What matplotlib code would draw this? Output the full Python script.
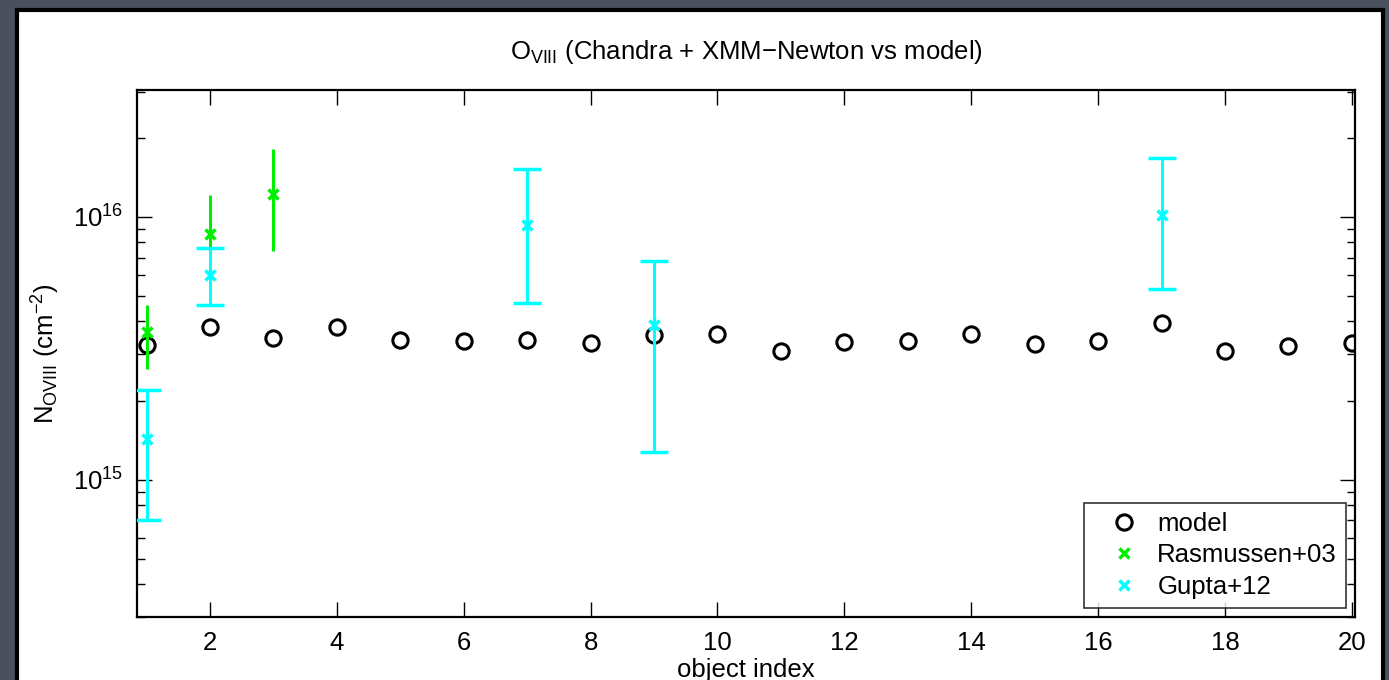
import numpy as np
import matplotlib
matplotlib.use("Agg")
import matplotlib.pyplot as plt
from matplotlib.patches import Rectangle
from matplotlib.lines import Line2D
from matplotlib.ticker import LogLocator, NullFormatter

plt.rcParams['font.family'] = ['Liberation Sans', 'DejaVu Sans']
plt.rcParams['mathtext.fontset'] = 'custom'
plt.rcParams['mathtext.rm'] = 'Liberation Sans'
plt.rcParams['mathtext.it'] = 'Liberation Sans'

# model column densities, objects 1..20
obj_index = np.arange(1, 21)
model_N = [3.24e15, 3.80e15, 3.45e15, 3.80e15, 3.39e15, 3.36e15, 3.39e15,
           3.30e15, 3.54e15, 3.57e15, 3.10e15, 3.33e15, 3.36e15, 3.57e15,
           3.28e15, 3.36e15, 3.94e15, 3.10e15, 3.22e15, 3.30e15]

# Rasmussen+03 (Chandra)
ras_idx = [1, 2, 3]
ras_N = [3.65e15, 8.6e15, 1.22e16]
ras_lo = [2.63e15, 7.43e15, 7.43e15]
ras_hi = [4.61e15, 1.21e16, 1.82e16]

# Gupta+12 (Chandra)
gup_idx = [1, 2, 7, 9, 17]
gup_N = [1.43e15, 6.0e15, 9.3e15, 3.87e15, 1.02e16]
gup_lo = [7.04e14, 4.61e15, 4.70e15, 1.27e15, 5.31e15]
gup_hi = [2.20e15, 7.59e15, 1.52e16, 6.78e15, 1.68e16]

GREEN = '#00ee00'
CYAN = '#00ffff'
FS = 18.5

fig = plt.figure(figsize=(13.89, 6.8), dpi=100)
fig.patch.set_facecolor('#4b505e')
# white sheet behind the plot
sheet = Rectangle((17 / 1389, -0.05), 1366 / 1389, 1.05 - 10 / 680,
                  transform=fig.transFigure, facecolor='white',
                  edgecolor='black', linewidth=3, zorder=-10)
fig.add_artist(sheet)

ax = fig.add_axes([137 / 1389, 1 - 617 / 680, 1218 / 1389, 527 / 680])
ax.set_facecolor('white')

ax.plot(obj_index, model_N, 'o', mfc='none', mec='black', ms=11, mew=2.2,
        zorder=3)

ras = np.array(ras_N)
ax.errorbar(ras_idx, ras_N,
            yerr=[ras - np.array(ras_lo), np.array(ras_hi) - ras],
            fmt='x', color=GREEN, ms=7, mew=2.5, elinewidth=2.2,
            capsize=0, zorder=4)

gup = np.array(gup_N)
ax.errorbar(gup_idx, gup_N,
            yerr=[gup - np.array(gup_lo), np.array(gup_hi) - gup],
            fmt='x', color=CYAN, ms=7, mew=2.5, elinewidth=2.2,
            capsize=10, capthick=2.2, zorder=4)

ax.set_yscale('log')
ax.set_xlim(0.85, 20.05)
ax.set_ylim(3e14, 3.04e16)
ax.set_xticks([2, 4, 6, 8, 10, 12, 14, 16, 18, 20])
ax.yaxis.set_major_locator(LogLocator(base=10, numticks=10))
ax.yaxis.set_minor_locator(LogLocator(base=10, subs=np.arange(2, 10), numticks=20))
ax.yaxis.set_minor_formatter(NullFormatter())

ax.tick_params(which='both', direction='in', top=True, right=True,
               labelsize=FS, width=1)
ax.tick_params(which='major', length=11, pad=10)
ax.tick_params(which='minor', length=6)
for s in ax.spines.values():
    s.set_linewidth(1.6)

ax.set_title(r'O$_{\mathrm{VIII}}$ (Chandra + XMM$-$Newton vs model)',
             fontsize=FS, pad=22)
ax.set_xlabel('object index', fontsize=FS, labelpad=2)
ax.set_ylabel(r'N$_{\mathrm{OVIII}}$ (cm$^{-2}$)', fontsize=FS, labelpad=8)

# legend shows markers only
handles = [
    Line2D([], [], ls='none', marker='o', mfc='none', mec='black', ms=11, mew=2.2),
    Line2D([], [], ls='none', marker='x', color=GREEN, ms=7, mew=2.5),
    Line2D([], [], ls='none', marker='x', color=CYAN, ms=7, mew=2.5),
]
leg = ax.legend(handles, ['model', 'Rasmussen+03', 'Gupta+12'],
                loc='lower right', fontsize=FS, frameon=True, fancybox=False,
                edgecolor='black', borderpad=0.35, handletextpad=0.1,
                handlelength=2.4, labelspacing=0.3, borderaxespad=0.35)
leg.get_frame().set_linewidth(1.2)

fig.savefig('out.png', dpi=100, facecolor=fig.get_facecolor())
